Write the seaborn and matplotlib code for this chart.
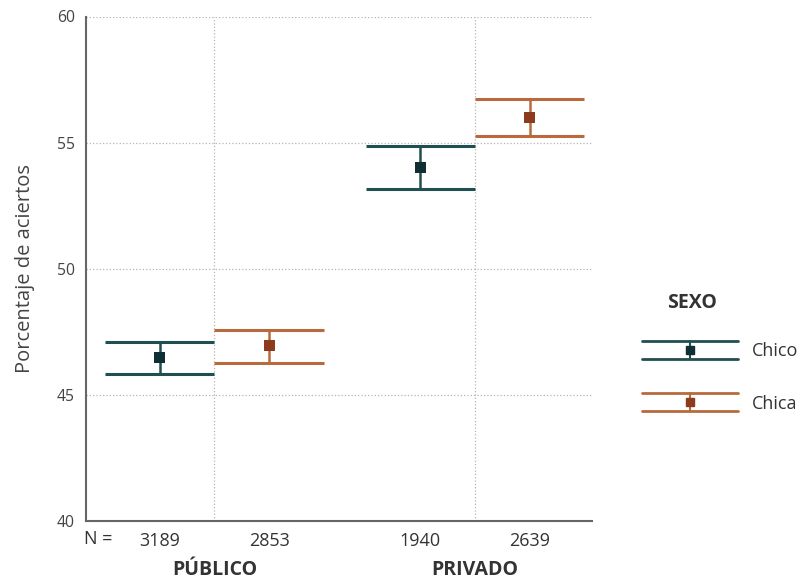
import numpy as np
import pandas as pd
import matplotlib
matplotlib.use("Agg")
import matplotlib.pyplot as plt
import matplotlib.transforms as mtransforms
import seaborn as sns
from matplotlib.legend_handler import HandlerBase
from matplotlib.lines import Line2D

# ---- data ----
sectores = ["PÚBLICO", "PRIVADO"]
sexos = ["Chico", "Chica"]
media_chico = [46.47, 54.00]
media_chica = [46.96, 56.00]
inf_chico = [45.81, 53.17]
sup_chico = [47.09, 54.88]
inf_chica = [46.26, 55.26]
sup_chica = [47.58, 56.72]
n_chico = [3189, 1940]
n_chica = [2853, 2639]
y_ticks = [40, 45, 50, 55, 60]

# ---- style ----
FONT = ["Open Sans", "DejaVu Sans"]
sns.set_theme(style="white")
plt.rcParams["font.family"] = FONT

linea = {"Chico": "#1f4f51", "Chica": "#b96a3c"}
marca = {"Chico": "#0f2f34", "Chica": "#8d3b1d"}
desplaz = {"Chico": -0.21, "Chica": 0.21}
semiancho = 0.21

filas = []
for i, s in enumerate(sectores):
    filas.append(dict(sector=s, sexo="Chico", media=media_chico[i], inf=inf_chico[i],
                      sup=sup_chico[i], n=n_chico[i]))
    filas.append(dict(sector=s, sexo="Chica", media=media_chica[i], inf=inf_chica[i],
                      sup=sup_chica[i], n=n_chica[i]))
df = pd.DataFrame(filas)
df["x"] = df["sector"].map({s: i for i, s in enumerate(sectores)}) + df["sexo"].map(desplaz)

fig = plt.figure(figsize=(8.04, 5.82), dpi=100)
ax = fig.add_axes([86 / 804, 1 - 521 / 582, (592 - 86) / 804, (521 - 16.5) / 582])

for sx in sexos:
    d = df[df["sexo"] == sx]
    ax.vlines(d["x"], d["inf"], d["sup"], color=linea[sx], lw=1.8, zorder=3)
    ax.hlines(d["inf"], d["x"] - semiancho, d["x"] + semiancho, color=linea[sx], lw=2.2, zorder=3)
    ax.hlines(d["sup"], d["x"] - semiancho, d["x"] + semiancho, color=linea[sx], lw=2.2, zorder=3)

sns.scatterplot(data=df, x="x", y="media", hue="sexo", palette=marca, marker="s",
                s=64, edgecolor="none", legend=False, ax=ax, zorder=4)

ax.set_xlim(-0.493, 1.449)
ax.set_ylim(40, 60)
ax.set_yticks(y_ticks)
ax.set_yticklabels([str(t) for t in y_ticks], fontsize=11.3, color="#444444")
ax.set_xticks(df["x"])
ax.set_xticklabels([str(v) for v in df["n"]], fontsize=13, color="#333333")
ax.set_xticks(range(len(sectores)), minor=True)
ax.set_xticklabels(sectores, minor=True, fontsize=14, fontweight="bold", color="#333333")
ax.tick_params(axis="x", which="major", length=0, pad=8)
ax.tick_params(axis="x", which="minor", length=0, pad=28)
ax.tick_params(axis="y", length=0, pad=8)

ax.grid(axis="y", which="major", linestyle=":", color="#b5b5b5", lw=0.9)
ax.grid(axis="x", which="minor", linestyle=":", color="#b5b5b5", lw=0.9)
ax.grid(axis="x", which="major", visible=False)
for s in ["top", "right"]:
    ax.spines[s].set_visible(False)
for s in ["left", "bottom"]:
    ax.spines[s].set_color("#666666")
    ax.spines[s].set_linewidth(1.5)

ax.set_xlabel("")
ax.set_ylabel("Porcentaje de aciertos", fontsize=14.5, color="#444444", labelpad=16)
ax.text(-0.447, -0.036, "N =",
        transform=mtransforms.blended_transform_factory(ax.transData, ax.transAxes),
        ha="center", va="center", fontsize=13, color="#333333")


# ---- legend ----
class HandlerIntervalo(HandlerBase):
    def create_artists(self, legend, orig, xd, yd, width, height, fontsize, trans):
        c = orig.get_color()
        mc = orig.get_markerfacecolor()
        x0, x1 = -xd, -xd + width
        y0, y1 = -yd, -yd + height
        xm, ym = (x0 + x1) / 2, (y0 + y1) / 2
        arts = [
            Line2D([x0, x1], [y1, y1], color=c, lw=2.0),
            Line2D([x0, x1], [y0, y0], color=c, lw=2.0),
            Line2D([xm, xm], [y0, y1], color=c, lw=1.5),
            Line2D([xm], [ym], marker="s", ms=6, color=mc, lw=0),
        ]
        for a in arts:
            a.set_transform(trans)
        return arts


handles = [Line2D([], [], color=linea[s], markerfacecolor=marca[s], marker="s") for s in sexos]
leg = fig.legend(handles, sexos, handler_map={Line2D: HandlerIntervalo()},
                 loc="upper left", bbox_to_anchor=(642 / 804, 1 - 341 / 582),
                 frameon=False, fontsize=13, handlelength=5.3, handleheight=1.15,
                 handletextpad=0.8, labelspacing=1.85, borderpad=0, borderaxespad=0)
for t in leg.get_texts():
    t.set_color("#333333")
fig.text(692 / 804, 1 - 303 / 582, "SEXO", ha="center", va="center", fontsize=14,
         fontweight="bold", color="#333333")

fig.savefig("out.png", dpi=100)
